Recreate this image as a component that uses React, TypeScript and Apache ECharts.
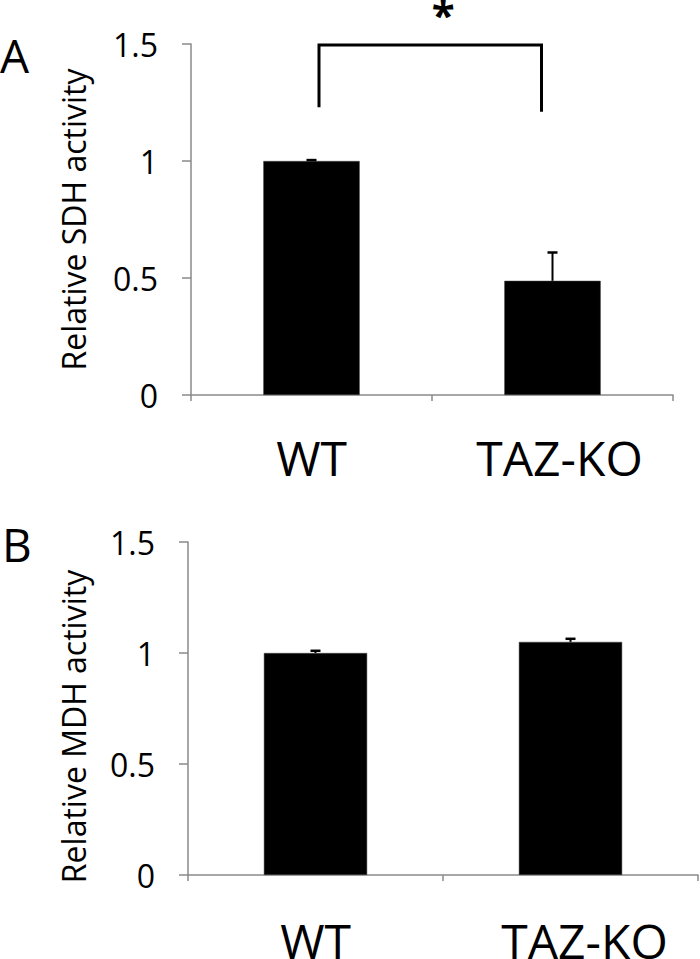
import React, { useEffect, useRef } from "react";
import * as echarts from "echarts";

const categories = ["WT", "TAZ-KO"];
const sdhMeans = [1.0, 0.488];
const sdhErrors = [0.004, 0.121];
const mdhMeans = [1.0, 1.05];
const mdhErrors = [0.01, 0.014];
const yMin = 0;
const yMax = 1.5;
const yInterval = 0.5;
// significance bracket: [left arm bottom, bracket top, right arm bottom]
const bracketLevels = [1.23, 1.5, 1.21];
const sigMark = "*";

const FONT = "'Open Sans', 'Liberation Sans', sans-serif";
const AXIS_GRAY = "#8a8a8a";

function errorBarRender(params: any, api: any) {
  const x = api.value(0);
  const mean = api.value(1);
  const err = api.value(2);
  const base = api.coord([x, mean]);
  const top = api.coord([x, mean + err]);
  return {
    type: "group",
    children: [
      {
        type: "line",
        shape: { x1: base[0], y1: base[1], x2: top[0], y2: top[1] },
        style: { stroke: "#000", lineWidth: 2 },
      },
      {
        type: "line",
        shape: { x1: top[0] - 5, y1: top[1], x2: top[0] + 5, y2: top[1] },
        style: { stroke: "#000", lineWidth: 2.5 },
      },
    ],
  };
}

function bracketRender(params: any, api: any) {
  const leftLow = api.coord([0, api.value(1)]);
  const leftTop = api.coord([0, api.value(2)]);
  const rightLow = api.coord([1, api.value(3)]);
  const rightTop = api.coord([1, api.value(2)]);
  const lx = leftTop[0] + 7.5;
  const rx = rightTop[0] - 11;
  const ty = leftTop[1] + 1;
  return {
    type: "group",
    children: [
      {
        type: "polyline",
        shape: {
          points: [
            [lx, leftLow[1]],
            [lx, ty],
            [rx, ty],
            [rx, rightLow[1]],
          ],
        },
        style: { stroke: "#000", lineWidth: 3, fill: "none" },
      },
      {
        type: "text",
        x: (lx + rx) / 2 + 13,
        y: ty - 32,
        style: {
          text: sigMark,
          fontSize: 42,
          fontWeight: "bold",
          lineHeight: 20,
          fontFamily: FONT,
          fill: "#000",
          align: "center",
          verticalAlign: "middle",
        },
      },
    ],
  };
}

function makeY(gridIndex: number, name: string, nameGap: number, namePad: number[]) {
  return {
    type: "value",
    gridIndex,
    min: yMin,
    max: yMax,
    interval: yInterval,
    name,
    nameLocation: "middle",
    nameGap,
    nameTextStyle: { fontSize: 32, fontFamily: FONT, color: "#000", padding: namePad },
    axisLine: { show: true, lineStyle: { color: AXIS_GRAY, width: 1.5 } },
    axisTick: { show: true, length: 9, lineStyle: { color: AXIS_GRAY, width: 1.5 } },
    splitLine: { show: false },
    axisLabel: {
      fontSize: 32,
      fontFamily: FONT,
      color: "#000",
      margin: 33,
      padding: [10, 0, 0, 0],
    },
  };
}

function makeX(gridIndex: number, margin: number, lineHeight: number, shift: number) {
  return {
    type: "category",
    gridIndex,
    data: categories.map((c, i) =>
      i === 1 ? { value: c, textStyle: { padding: [0, 0, 0, shift] } } : c
    ),
    axisLine: { show: true, lineStyle: { color: AXIS_GRAY, width: 1.5 } },
    axisTick: { show: true, length: 6, alignWithLabel: false, lineStyle: { color: AXIS_GRAY, width: 1.5 } },
    axisLabel: { fontSize: 48, lineHeight, fontFamily: FONT, color: "#000", margin },
  };
}

export default function App() {
  const ref = useRef<HTMLDivElement>(null);
  useEffect(() => {
    if (!ref.current) return;
    const chart = echarts.init(ref.current, null, { renderer: "svg" });
    chart.setOption({
      animation: false,
      backgroundColor: "#fff",
      grid: [
        { left: 191, right: 27, top: 44, bottom: 564, outerBoundsMode: "none" },
        { left: 188, right: 2, top: 542, bottom: 84, outerBoundsMode: "none" },
      ],
      xAxis: [makeX(0, 38, 48, 14), makeX(1, 52, 26, 28)],
      yAxis: [
        makeY(0, "Relative SDH activity", 102, [0, 0, 0, 0]),
        makeY(1, "Relative MDH activity", 99, [0, 36, 0, 0]),
      ],
      graphic: [
        {
          type: "text",
          left: 0,
          top: 32,
          style: { text: "A", fontSize: 46, fontFamily: FONT, fill: "#000" },
        },
        {
          type: "text",
          left: 2,
          top: 521,
          style: { text: "B", fontSize: 46, fontFamily: FONT, fill: "#000" },
        },
      ],
      series: [
        {
          type: "bar",
          xAxisIndex: 0,
          yAxisIndex: 0,
          data: sdhMeans,
          barWidth: "40%",
          itemStyle: { color: "#000", borderColor: "#444", borderWidth: 0.5 },
        },
        {
          type: "custom",
          xAxisIndex: 0,
          yAxisIndex: 0,
          renderItem: errorBarRender,
          data: categories.map((c, i) => [i, sdhMeans[i], sdhErrors[i]]),
          z: 5,
        },
        {
          type: "custom",
          xAxisIndex: 0,
          yAxisIndex: 0,
          renderItem: bracketRender,
          clip: false,
          data: [[0, bracketLevels[0], bracketLevels[1], bracketLevels[2]]],
          z: 6,
        },
        {
          type: "bar",
          xAxisIndex: 1,
          yAxisIndex: 1,
          data: mdhMeans,
          barWidth: "40.5%",
          itemStyle: { color: "#000", borderColor: "#444", borderWidth: 0.5 },
        },
        {
          type: "custom",
          xAxisIndex: 1,
          yAxisIndex: 1,
          renderItem: errorBarRender,
          data: categories.map((c, i) => [i, mdhMeans[i], mdhErrors[i]]),
          z: 5,
        },
      ],
    });
    return () => chart.dispose();
  }, []);
  return (
    <div
      ref={ref}
      style={{ position: "fixed", left: 0, top: 0, width: 700, height: 959 }}
    />
  );
}
